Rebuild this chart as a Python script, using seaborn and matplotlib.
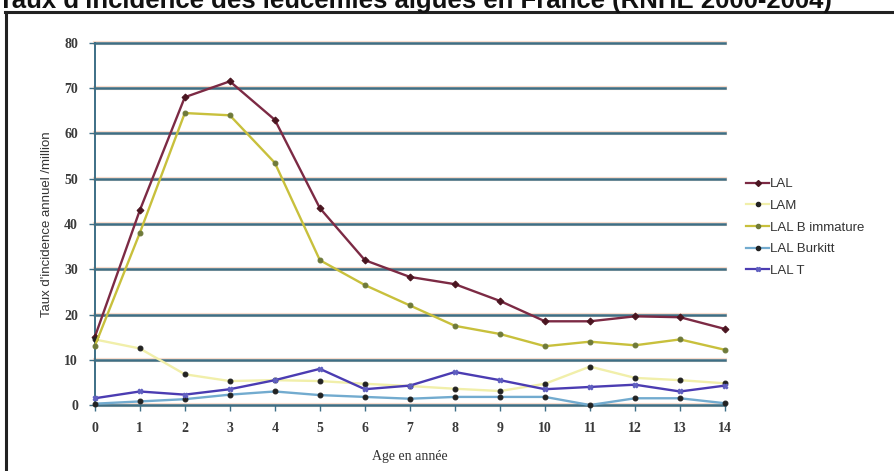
import pandas as pd
import seaborn as sns
import matplotlib.pyplot as plt
from matplotlib.lines import Line2D

# donnees (taux annuel / million)
ages = list(range(15))
lal = [15, 43, 68, 71.5, 63, 43.5, 32, 28.3, 26.7, 23, 18.5, 18.5, 19.6, 19.4, 16.8]
lam = [14.5, 12.5, 6.8, 5.3, 5.5, 5.3, 4.7, 4.2, 3.6, 3.1, 4.7, 8.5, 6.0, 5.5, 4.8]
lal_b = [13, 38, 64.5, 64, 53.5, 32, 26.5, 22, 17.5, 15.7, 13, 14, 13.2, 14.5, 12.2]
burkitt = [0.3, 0.8, 1.3, 2.3, 3, 2.2, 1.8, 1.4, 1.8, 1.8, 1.8, 0.0, 1.5, 1.5, 0.4]
lal_t = [1.5, 3, 2.3, 3.5, 5.5, 8, 3.5, 4.3, 7.3, 5.5, 3.5, 4, 4.5, 3, 4.3]

noms = ['LAL', 'LAM', 'LAL B immature', 'LAL Burkitt', 'LAL T']
series = [lal, lam, lal_b, burkitt, lal_t]
couleurs = {'LAL': '#7c2a44', 'LAM': '#f1efaa', 'LAL B immature': '#c8c03c',
            'LAL Burkitt': '#72abcf', 'LAL T': '#4b3cb2'}
marqueurs = {'LAL': 'D', 'LAM': 'o', 'LAL B immature': 'o', 'LAL Burkitt': 'o', 'LAL T': 'X'}
mcol = {'LAL': '#4a1520', 'LAM': '#222222', 'LAL B immature': '#6f7a3a',
        'LAL Burkitt': '#222222', 'LAL T': '#6060c0'}

df = pd.concat([pd.DataFrame({'age': ages, 'taux': s, 'type': n}) for n, s in zip(noms, series)])

fig = plt.figure(figsize=(8.94, 4.71), dpi=100)
ax = fig.add_axes([0.106, 0.14, 0.705, 0.769])

grid_col = '#3d6f86'
for v in range(0, 90, 10):
    ax.axhline(v, color='#f8dccd', lw=3.0, zorder=0.9, clip_on=False)
    ax.axhline(v, color=grid_col, lw=1.8, zorder=1, clip_on=False)

sns.lineplot(data=df, x='age', y='taux', hue='type', hue_order=noms, palette=couleurs,
             style='type', style_order=noms, markers=marqueurs, dashes=False,
             lw=1.7, markersize=3.5, legend=False, ax=ax, zorder=3)

for ln, n in zip(ax.lines[18:], noms):
    ln.set_markerfacecolor(mcol[n])
    ln.set_markeredgecolor(mcol[n])
    ln.set_clip_on(False)

ax.set_xlim(0, 14)
ax.set_ylim(0, 80)
ax.set_xticks(ages)
ax.set_yticks(range(0, 90, 10))
for s in ['top', 'right', 'bottom']:
    ax.spines[s].set_visible(False)
ax.spines['left'].set_color(grid_col)
ax.spines['left'].set_linewidth(1.4)
ax.tick_params(axis='both', colors=grid_col, length=4, width=1)
for lab in ax.get_xticklabels() + ax.get_yticklabels():
    lab.set_family('Liberation Serif')
    lab.set_weight('bold')
    lab.set_size(10)
    lab.set_color('#3a3a3a')
ax.tick_params(axis='x', pad=8)
ax.tick_params(axis='y', pad=8)

ax.set_xlabel('Age en année', family='Liberation Serif', size=10, color='#333333', labelpad=4)
ax.set_ylabel("Taux d'incidence annuel /million", family='Liberation Sans', size=9.5,
              color='#333333', labelpad=8)
ax.xaxis.set_label_coords(0.5, -0.125)

handles = [Line2D([], [], color=couleurs[n], lw=1.6, marker=marqueurs[n], markersize=3,
                  markerfacecolor=mcol[n], markeredgecolor=mcol[n]) for n in noms]
leg = ax.legend(handles, noms, loc='upper left', bbox_to_anchor=(1.015, 0.66), frameon=False,
                prop={'family': 'Liberation Sans', 'size': 9.5}, handlelength=1.7,
                handletextpad=0.1, labelspacing=0.72)
for t in leg.get_texts():
    t.set_color('#333333')

# cadre et titre coupes
fig.add_artist(Line2D([0.006, 1.0], [0.974, 0.974], color='#222222', lw=2.2))
fig.add_artist(Line2D([0.007, 0.007], [0.0, 0.974], color='#222222', lw=2.2))
fig.text(0.93, 0.983, "Taux d'incidence des leucémies aiguës en France (RNHE 2000-2004)",
         ha='right', va='baseline', family='Liberation Sans', weight='bold', size=18.5,
         color='#111111')

fig.savefig('out.png', dpi=100)
